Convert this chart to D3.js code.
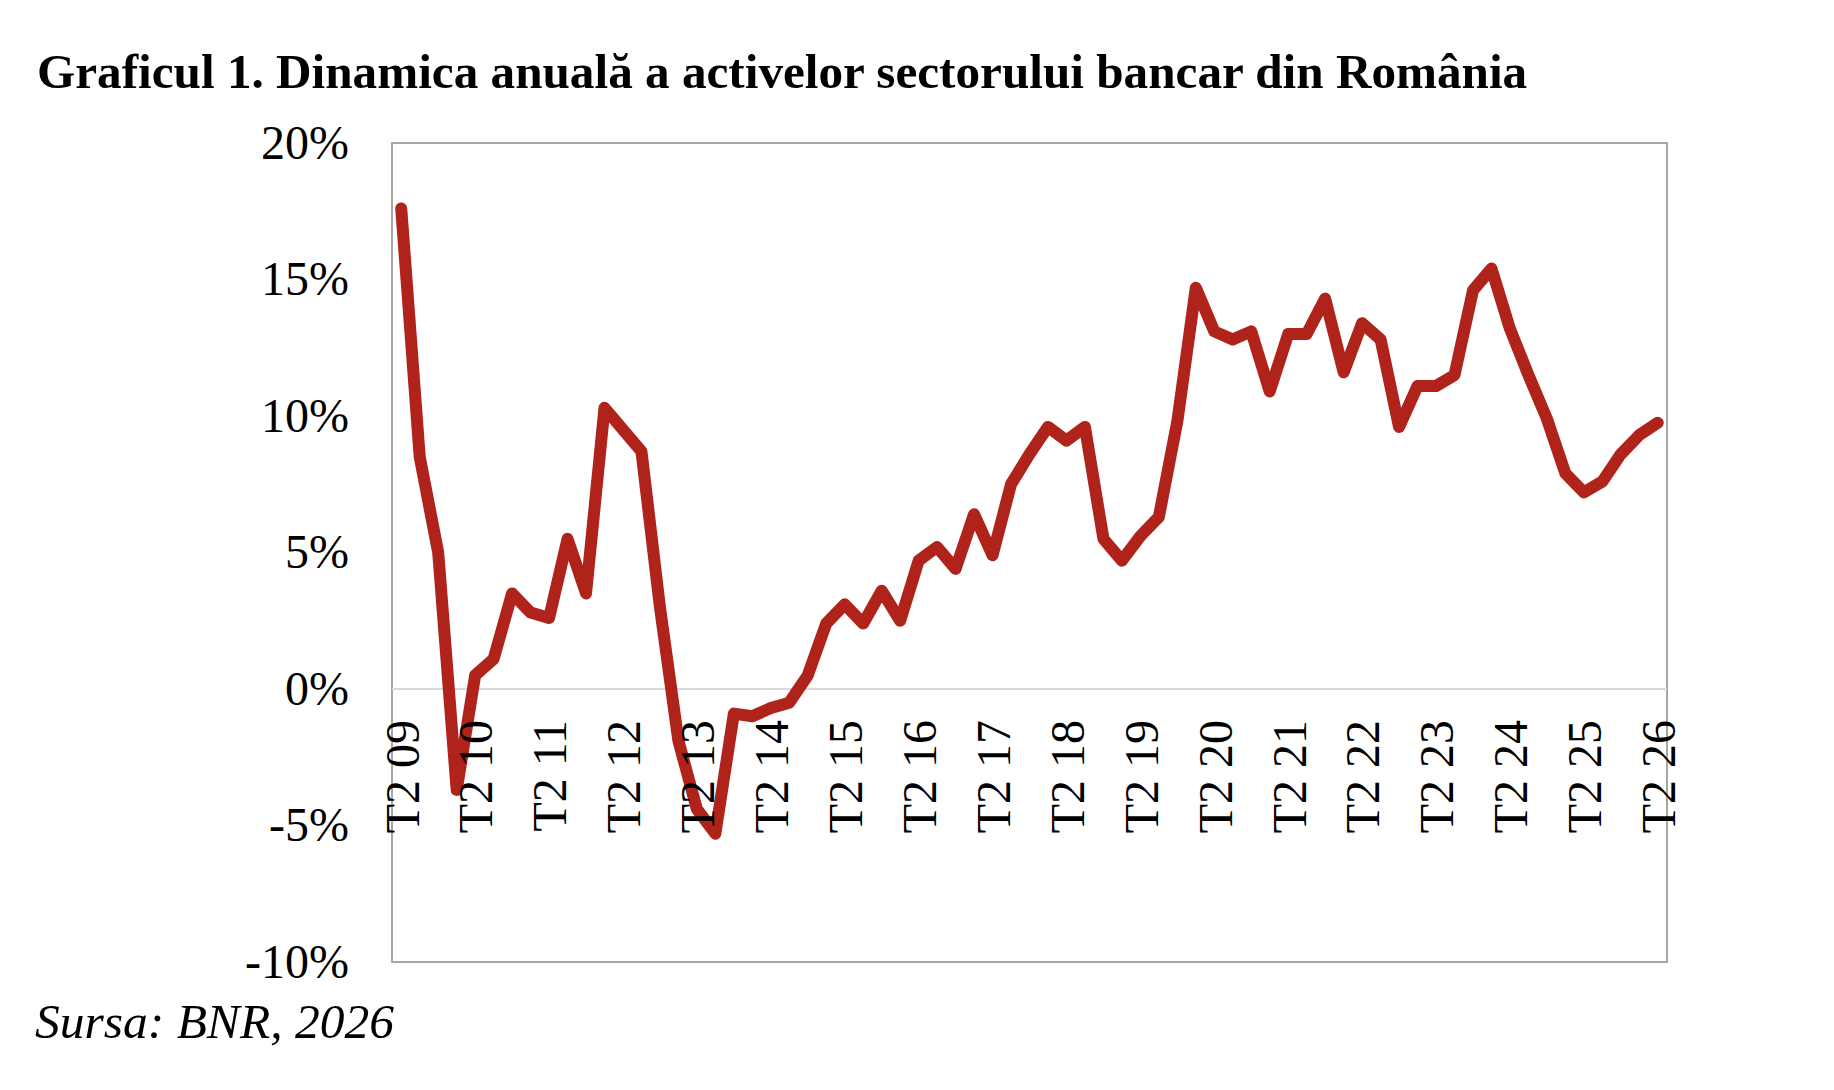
<!DOCTYPE html>
<html>
<head>
<meta charset="utf-8">
<title>Graficul 1</title>
<script src="https://cdn.jsdelivr.net/npm/d3@7"></script>
<style>
  body { margin: 0; background: #fff; }
  svg { display: block; }
  text { font-family: "Liberation Serif", "Times New Roman", serif; fill: #000; }
</style>
</head>
<body>
<div id="chart"></div>
<script>
// categorii trimestriale, T2 2009 - T2 2026
var categories = [
  "T2 09", "T3 09", "T4 09",
  "T1 10", "T2 10", "T3 10", "T4 10",
  "T1 11", "T2 11", "T3 11", "T4 11",
  "T1 12", "T2 12", "T3 12", "T4 12",
  "T1 13", "T2 13", "T3 13", "T4 13",
  "T1 14", "T2 14", "T3 14", "T4 14",
  "T1 15", "T2 15", "T3 15", "T4 15",
  "T1 16", "T2 16", "T3 16", "T4 16",
  "T1 17", "T2 17", "T3 17", "T4 17",
  "T1 18", "T2 18", "T3 18", "T4 18",
  "T1 19", "T2 19", "T3 19", "T4 19",
  "T1 20", "T2 20", "T3 20", "T4 20",
  "T1 21", "T2 21", "T3 21", "T4 21",
  "T1 22", "T2 22", "T3 22", "T4 22",
  "T1 23", "T2 23", "T3 23", "T4 23",
  "T1 24", "T2 24", "T3 24", "T4 24",
  "T1 25", "T2 25", "T3 25", "T4 25",
  "T1 26", "T2 26"
];

// dinamica anuala a activelor (%)
var growth = [
  17.6, 8.5, 5.0,
  -3.7, 0.5, 1.1, 3.5,
  2.8, 2.6, 5.5, 3.5,
  10.3, 9.5, 8.7, 3.0,
  -1.9, -4.4, -5.3, -0.9,
  -1.0, -0.7, -0.5, 0.5,
  2.4, 3.1, 2.4, 3.6,
  2.5, 4.7, 5.2, 4.4,
  6.4, 4.9, 7.5, 8.6,
  9.6, 9.1, 9.6, 5.5,
  4.7, 5.6, 6.3, 9.8,
  14.7, 13.1, 12.8, 13.1,
  10.9, 13.0, 13.0, 14.3,
  11.6, 13.4, 12.8, 9.6,
  11.1, 11.1, 11.5, 14.6,
  15.4, 13.2, 11.5, 9.9,
  7.9, 7.2, 7.6, 8.6,
  9.3, 9.75
];

var yTicks = [-10, -5, 0, 5, 10, 15, 20];
var xLabels = categories.filter(function (c) { return c.indexOf("T2") === 0; });

var title = "Graficul 1. Dinamica anuală a activelor sectorului bancar din România";
var source = "Sursa: BNR, 2026";

var width = 1834, height = 1090;
var plot = { left: 392, right: 1667, top: 143, bottom: 962 };

var svg = d3.select("#chart").append("svg")
  .attr("width", width)
  .attr("height", height);

svg.append("rect")
  .attr("width", width)
  .attr("height", height)
  .attr("fill", "#fff");

var x = d3.scalePoint()
  .domain(categories)
  .range([plot.left, plot.right])
  .padding(0.5);

var y = d3.scaleLinear()
  .domain([-10, 20])
  .range([plot.bottom, plot.top]);

// titlu
svg.append("text")
  .attr("x", 37)
  .attr("y", 88)
  .attr("font-size", "49.2px")
  .attr("font-weight", "bold")
  .text(title);

// chenarul zonei graficului
svg.append("rect")
  .attr("x", plot.left)
  .attr("y", plot.top)
  .attr("width", plot.right - plot.left)
  .attr("height", plot.bottom - plot.top)
  .attr("fill", "none")
  .attr("stroke", "#a6a6a6")
  .attr("stroke-width", 2);

// axa Y
var yAxis = svg.append("g")
  .attr("transform", "translate(" + plot.left + ",0)")
  .call(d3.axisLeft(y)
    .tickValues(yTicks)
    .tickSize(0)
    .tickPadding(43)
    .tickFormat(function (d) { return (d < 0 ? "-" + Math.abs(d) : d) + "%"; }));
yAxis.select(".domain").remove();
yAxis.selectAll("text")
  .attr("font-size", "48px")
  .attr("font-family", "Liberation Serif, serif")
  .attr("fill", "#000");

// linia de zero
svg.append("line")
  .attr("x1", plot.left)
  .attr("x2", plot.right)
  .attr("y1", y(0))
  .attr("y2", y(0))
  .attr("stroke", "#d9d9d9")
  .attr("stroke-width", 2);

// seria
var line = d3.line()
  .x(function (d, i) { return x(categories[i]); })
  .y(function (d) { return y(d); });

svg.append("path")
  .datum(growth)
  .attr("d", line)
  .attr("fill", "none")
  .attr("stroke", "#b0231a")
  .attr("stroke-width", 12)
  .attr("stroke-linejoin", "round")
  .attr("stroke-linecap", "round");

// axa X, etichete verticale sub linia de zero
var xAxis = svg.append("g")
  .attr("transform", "translate(0," + y(0) + ")")
  .call(d3.axisBottom(x)
    .tickValues(xLabels)
    .tickSize(0));
xAxis.select(".domain").remove();
xAxis.selectAll("text")
  .attr("font-size", "48px")
  .attr("font-family", "Liberation Serif, serif")
  .attr("fill", "#000")
  .attr("text-anchor", "end")
  .attr("transform", "rotate(-90)")
  .attr("x", -31)
  .attr("y", 0)
  .attr("dy", "0.35em");

// sursa
svg.append("text")
  .attr("x", 35)
  .attr("y", 1038)
  .attr("font-size", "49.5px")
  .attr("font-style", "italic")
  .text(source);
</script>
</body>
</html>
